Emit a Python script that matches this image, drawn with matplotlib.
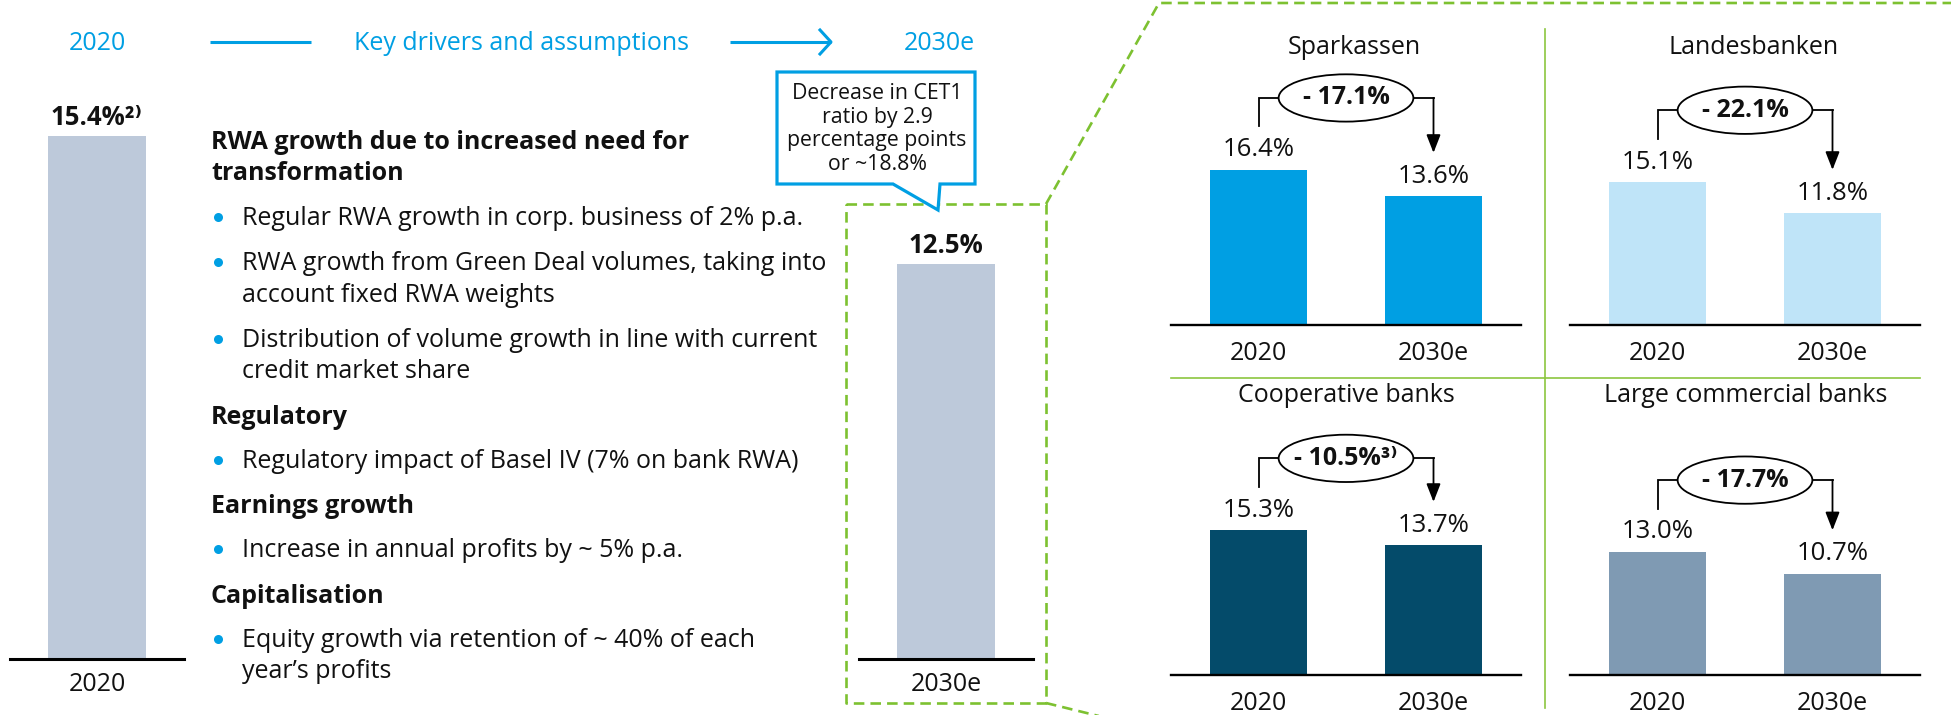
import matplotlib
matplotlib.use("Agg")
import matplotlib.pyplot as plt
from matplotlib.patches import Ellipse, Polygon, FancyArrowPatch

plt.rcParams['font.family'] = ['Open Sans', 'DejaVu Sans']

# ---------------- data ----------------
overview_years = ['2020', '2030e']
overview_values = [15.4, 12.5]
overview_labels = ['15.4%\u00b2\u207e', '12.5%']

groups = ['Sparkassen', 'Landesbanken', 'Cooperative banks', 'Large commercial banks']
group_years = ['2020', '2030e']
values_2020 = [16.4, 15.1, 15.3, 13.0]
values_2030 = [13.6, 11.8, 13.7, 10.7]
changes = ['- 17.1%', '- 22.1%', '- 10.5%\u00b3\u207e', '- 17.7%']

header_left = '2020'
header_mid = 'Key drivers and assumptions'
header_right = '2030e'
callout_text = 'Decrease in CET1\nratio by 2.9\npercentage points\nor ~18.8%'

body_lines = [
    ('head', 'RWA growth due to increased need for'),
    ('head', 'transformation'),
    ('bullet', 'Regular RWA growth in corp. business of 2% p.a.'),
    ('bullet', 'RWA growth from Green Deal volumes, taking into'),
    ('cont', 'account fixed RWA weights'),
    ('bullet', 'Distribution of volume growth in line with current'),
    ('cont', 'credit market share'),
    ('head', 'Regulatory'),
    ('bullet', 'Regulatory impact of Basel IV (7% on bank RWA)'),
    ('head', 'Earnings growth'),
    ('bullet', 'Increase in annual profits by ~ 5% p.a.'),
    ('head', 'Capitalisation'),
    ('bullet', 'Equity growth via retention of ~ 40% of each'),
    ('cont', 'year\u2019s profits'),
]

# ---------------- style / layout ----------------
W, H = 1951, 715
BLUE = '#009FE3'
GREEN = '#7DC131'
GREEN_SOLID = '#8CC63F'
OVERVIEW_COLOR = '#BDC9DA'
group_colors = ['#009FE3', '#BFE4F8', '#044B6A', '#7F9AB3']
TXT = '#111111'

fig = plt.figure(figsize=(W / 100, H / 100), dpi=100)
fig.patch.set_facecolor('white')


def rect(x0, y0, x1, y1):
    return [x0 / W, 1 - y1 / H, (x1 - x0) / W, (y1 - y0) / H]


# decoration layer in pixel coordinates
deco = fig.add_axes([0, 0, 1, 1])
deco.set_xlim(0, W)
deco.set_ylim(H, 0)
deco.axis('off')

# header
hfs = 18
deco.text(97, 43, header_left, color=BLUE, fontsize=hfs, ha='center', va='center')
deco.text(521, 43, header_mid, color=BLUE, fontsize=hfs, ha='center', va='center')
deco.text(939, 43, header_right, color=BLUE, fontsize=hfs, ha='center', va='center')
deco.plot([210, 311], [42, 42], color=BLUE, lw=2.2, solid_capstyle='butt')
deco.plot([730, 831], [42, 42], color=BLUE, lw=2.2, solid_capstyle='butt')
deco.plot([820, 831, 820], [30, 42, 54], color=BLUE, lw=2.2)

# body text
body_baselines = [149, 180, 225, 270, 302, 347, 378, 424, 468, 513, 557, 603, 647, 678]
bfs = 18
for (kind, txt), yb in zip(body_lines, body_baselines):
    if kind == 'head':
        deco.text(211, yb, txt, fontsize=bfs, fontweight='bold', color=TXT,
                  ha='left', va='baseline')
    else:
        deco.text(242, yb, txt, fontsize=bfs, color=TXT, ha='left', va='baseline')
        if kind == 'bullet':
            deco.plot([218], [yb - 8], marker='o', ms=6.5, color=BLUE, mec='none')

# callout box
callout = Polygon([(777, 72), (975, 72), (975, 184), (940, 184), (938, 210),
                   (893, 184), (777, 184)], closed=True, facecolor='white',
                  edgecolor=BLUE, lw=2.3, joinstyle='miter', zorder=3)
deco.add_patch(callout)
deco.text(877, 129, callout_text, fontsize=15.3, color=TXT, ha='center', va='center',
          linespacing=1.17, zorder=4)

# green dashed zoom frame
dash = dict(color=GREEN, lw=1.9, ls=(0, (4, 2.3)))
deco.plot([846, 1046, 1046, 846, 846], [204, 204, 703, 703, 204], **dash)
deco.plot([1046, 1159, W + 5], [204, 3, 3], **dash)
deco.plot([1046, 1115], [703, 720], **dash)

# panel separators
deco.plot([1545, 1545], [29, 708], color=GREEN_SOLID, lw=1.2)
deco.plot([1171, 1920], [378, 378], color=GREEN_SOLID, lw=1.2)

# ---------------- overview bars ----------------
ov_axes = [rect(10, 100, 184, 659), rect(859, 100, 1033, 659)]
ov_ylim = [16.46, 17.69]
for i in range(2):
    ax = fig.add_axes(ov_axes[i])
    ax.set_facecolor('none')
    ax.bar([0], [overview_values[i]], width=0.566, color=OVERVIEW_COLOR, zorder=2)
    ax.set_xlim(-0.5, 0.5)
    ax.set_ylim(0, ov_ylim[i])
    for s in ['top', 'left', 'right']:
        ax.spines[s].set_visible(False)
    ax.spines['bottom'].set_linewidth(2.2)
    ax.spines['bottom'].set_zorder(3)
    ax.set_yticks([])
    ax.set_xticks([0])
    ax.set_xticklabels([overview_years[i]], fontsize=18, color=TXT)
    ax.tick_params(axis='x', length=0, pad=9.5)
    ax.annotate(overview_labels[i], xy=(0, overview_values[i]), xytext=(0, 13),
                textcoords='offset points', ha='center', va='center',
                fontsize=18.5, fontweight='bold', color=TXT)

# ---------------- group panels ----------------
PPU = 9.46  # pixels per percentage point
panel_x = [(1171, 1521), (1570, 1920), (1171, 1521), (1570, 1920)]
panel_base = [325, 325, 675, 675]
panel_top = [30, 30, 385, 385]
title_pos = [(1354, 48), (1754, 47), (1346, 396), (1746, 395)]

for i, g in enumerate(groups):
    x0, x1 = panel_x[i]
    ax = fig.add_axes(rect(x0, panel_top[i], x1, panel_base[i]))
    ax.set_facecolor('none')
    vals = [values_2020[i], values_2030[i]]
    ax.bar([0, 1], vals, width=0.554, color=group_colors[i], zorder=2)
    ax.set_xlim(-0.5, 1.5)
    ax.set_ylim(0, (panel_base[i] - panel_top[i]) / PPU)
    for s in ['top', 'left', 'right']:
        ax.spines[s].set_visible(False)
    ax.spines['bottom'].set_linewidth(1.7)
    ax.spines['bottom'].set_zorder(3)
    ax.set_yticks([])
    ax.set_xticks([0, 1])
    ax.set_xticklabels(group_years, fontsize=18, color=TXT)
    ax.tick_params(axis='x', length=0, pad=11.5)
    for xi, v in enumerate(vals):
        ax.annotate(f'{v:.1f}%', xy=(xi, v), xytext=(0, 14.5), textcoords='offset points',
                    ha='center', va='center', fontsize=18.5, color=TXT)
    # change bracket
    y_start = vals[0] + 4.6
    y_conn = vals[0] + 7.6
    y_tip = vals[1] + 4.6
    ew, eh = 0.77, 5.0
    ex = 0.5
    ey = y_conn
    ax.plot([0, 0, ex - ew / 2], [y_start, y_conn, y_conn], color='black', lw=1.3,
            clip_on=False, solid_joinstyle='miter')
    ax.plot([ex + ew / 2, 1], [y_conn, y_conn], color='black', lw=1.3, clip_on=False)
    arr = FancyArrowPatch((1, y_conn), (1, y_tip),
                          arrowstyle='-|>,head_length=11,head_width=4.3',
                          mutation_scale=1, lw=1.3, color='black',
                          shrinkA=0, shrinkB=0, clip_on=False)
    ax.add_patch(arr)
    ax.add_patch(Ellipse((ex, ey), ew, eh, facecolor='white', edgecolor='black',
                         lw=1.3, clip_on=False, zorder=3))
    ax.text(ex, ey, changes[i], ha='center', va='center', fontsize=18,
            fontweight='bold', color=TXT, zorder=4)
    deco.text(title_pos[i][0], title_pos[i][1], g, fontsize=18, color=TXT,
              ha='center', va='center')

fig.savefig('out.png', dpi=100, facecolor='white')
